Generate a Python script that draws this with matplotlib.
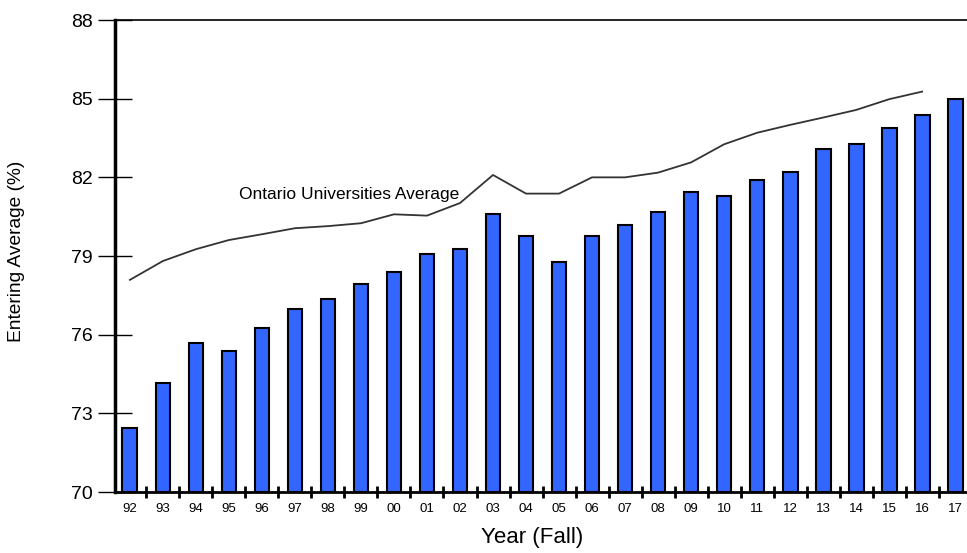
import matplotlib
matplotlib.use("Agg")
import matplotlib.pyplot as plt
import numpy as np
from matplotlib.ticker import FixedLocator

plt.rcParams['font.family'] = ['Liberation Sans', 'DejaVu Sans']

years = ['92', '93', '94', '95', '96', '97', '98', '99', '00', '01', '02', '03', '04',
         '05', '06', '07', '08', '09', '10', '11', '12', '13', '14', '15', '16', '17']
school_avg = [72.45, 74.15, 75.67, 75.37, 76.24, 76.97, 77.36, 77.95, 78.38, 79.06,
              79.27, 80.59, 79.75, 78.77, 79.75, 80.2, 80.68, 81.45, 81.28, 81.9,
              82.19, 83.08, 83.26, 83.9, 84.38, 84.98]
ontario_avg = [78.09, 78.81, 79.26, 79.61, 79.83, 80.06, 80.14, 80.25, 80.59, 80.54,
               81.02, 82.09, 81.38, 81.38, 82.0, 82.0, 82.18, 82.57, 83.26, 83.7,
               84.0, 84.28, 84.57, 84.98, 85.27]
yticks = [70, 73, 76, 79, 82, 85, 88]
line_label = 'Ontario Universities Average'

fig = plt.figure(figsize=(9.67, 5.53), dpi=100)
ax = fig.add_axes([0.119, 0.1103, 0.881, 0.8535])

x = np.arange(len(years))
base = 70
ax.bar(x, np.array(school_avg) - base, bottom=base, width=0.45,
       color='#3366FF', edgecolor='black', linewidth=1.5, zorder=2)
ax.plot(np.arange(len(ontario_avg)), ontario_avg, color='#333333', linewidth=1.3, zorder=3)
ax.text(3.3, 81.33, line_label, ha='left', va='center', fontsize=12.5, color='black')

ax.set_ylim(70, 88)
ax.set_xlim(-0.45, 25.36)
ax.set_yticks(yticks)
ax.set_yticklabels([str(v) for v in yticks], fontsize=14)
ax.set_xticks(x)
ax.set_xticklabels(years, fontsize=9.5)
ax.xaxis.set_minor_locator(FixedLocator(x[:-1] + 0.5))

ax.tick_params(axis='y', which='major', direction='inout', length=24, width=1.0, pad=4)
ax.tick_params(axis='x', which='major', length=0, pad=8)
ax.tick_params(axis='x', which='minor', direction='inout', length=8, width=2)

ax.spines['right'].set_visible(False)
ax.spines['left'].set_linewidth(2.5)
ax.spines['bottom'].set_linewidth(2)
ax.spines['top'].set_linewidth(1.2)

ax.set_ylabel('Entering Average (%)', fontsize=13.8)
ax.yaxis.set_label_coords(-0.106, 0.51)
ax.set_xlabel('Year (Fall)', fontsize=16)
ax.xaxis.set_label_coords(0.489, -0.075)

fig.savefig('out.png', dpi=100)
